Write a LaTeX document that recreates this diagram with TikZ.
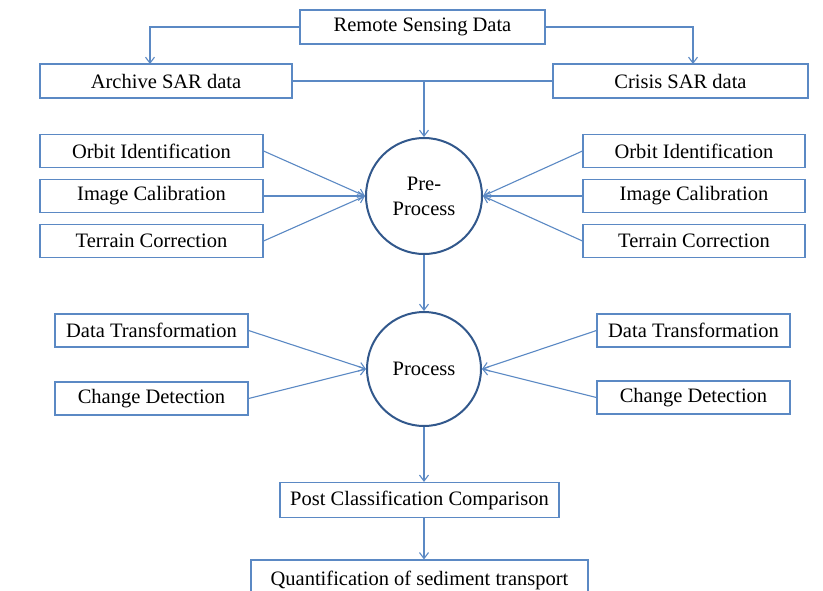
\documentclass[tikz,border=0pt]{standalone}
\usepackage{fontspec}
\setmainfont{Liberation Serif}
\usetikzlibrary{arrows.meta}
\definecolor{boxblue}{RGB}{91,137,196}
\definecolor{circblue}{RGB}{50,88,140}
\tikzset{
  box/.style={draw=boxblue, line width=1.1pt, rectangle, inner sep=0pt, minimum height=33pt, font=\fontsize{20.5}{23}\selectfont, text=black},
  proc/.style={draw=circblue, line width=2pt, circle, inner sep=0pt, align=center, font=\fontsize{20.5}{25}\selectfont, text=black},
  arr/.style={draw=boxblue, line width=1.1pt, -{Straight Barb[length=6pt,width=9pt,line width=1.1pt]}},
  conn/.style={draw=boxblue, line width=1.1pt}
}
\begin{document}
\begin{tikzpicture}[x=1pt,y=-1pt]
\useasboundingbox (0,0) rectangle (823,590);
\clip (0,0) rectangle (823,590);
\fill[white] (0,0) rectangle (823,590);
% top
\node[box, minimum width=245pt, minimum height=34pt] (remote) at (422.5,27) {Remote Sensing Data};
\node[box, minimum width=252pt, minimum height=34pt] (archive) at (166,81) {Archive SAR data};
\node[box, minimum width=255pt, minimum height=34pt] (crisis) at (680.5,81) {Crisis SAR data};
% pre-process
\node[proc, minimum size=116pt] (pre) at (424,196) {Pre-\\Process};
\node[box, minimum width=223pt] (lo) at (151.5,151) {Orbit Identification};
\node[box, minimum width=223pt] (li) at (151.5,196) {Image Calibration};
\node[box, minimum width=223pt] (lt) at (151.5,241) {Terrain Correction};
\node[box, minimum width=222pt] (ro) at (694,151) {Orbit Identification};
\node[box, minimum width=222pt] (ri) at (694,196) {Image Calibration};
\node[box, minimum width=222pt] (rt) at (694,241) {Terrain Correction};
% process
\node[proc, minimum size=114pt] (proc) at (424,369) {Process};
\node[box, minimum width=193pt] (ldt) at (151.5,330.5) {Data Transformation};
\node[box, minimum width=193pt] (lcd) at (151.5,398.5) {Change Detection};
\node[box, minimum width=193pt] (rdt) at (693.5,330.5) {Data Transformation};
\node[box, minimum width=193pt] (rcd) at (693.5,397.5) {Change Detection};
% bottom
\node[box, minimum width=279pt, minimum height=35pt] (post) at (419.5,500) {Post Classification Comparison};
\node[box, minimum width=337pt, minimum height=40pt, text depth=0pt] (quant) at (419.5,580) {\raisebox{4pt}{Quantification of sediment transport}};
% connectors
\coordinate (al) at (150,64);
\coordinate (cr) at (693,64);
\draw[arr] (remote.west) -| (al);
\draw[arr] (remote.east) -| (cr);
\draw[conn] (archive.east) -- (crisis.west);
\coordinate (j) at (pre.north |- archive.east);
\draw[arr] (j) -- (pre.north);
\foreach \n in {lo,li,lt} \draw[arr] (\n.east) -- (pre.west);
\foreach \n in {ro,ri,rt} \draw[arr] (\n.west) -- (pre.east);
\draw[arr] (pre.south) -- (proc.north);
\foreach \n in {ldt,lcd} \draw[arr] (\n.east) -- (proc.west);
\foreach \n in {rdt,rcd} \draw[arr] (\n.west) -- (proc.east);
\draw[arr] (proc.south) -- (proc.south |- post.north);
\draw[arr] (proc.south |- post.south) -- (proc.south |- quant.north);
\end{tikzpicture}
\end{document}
